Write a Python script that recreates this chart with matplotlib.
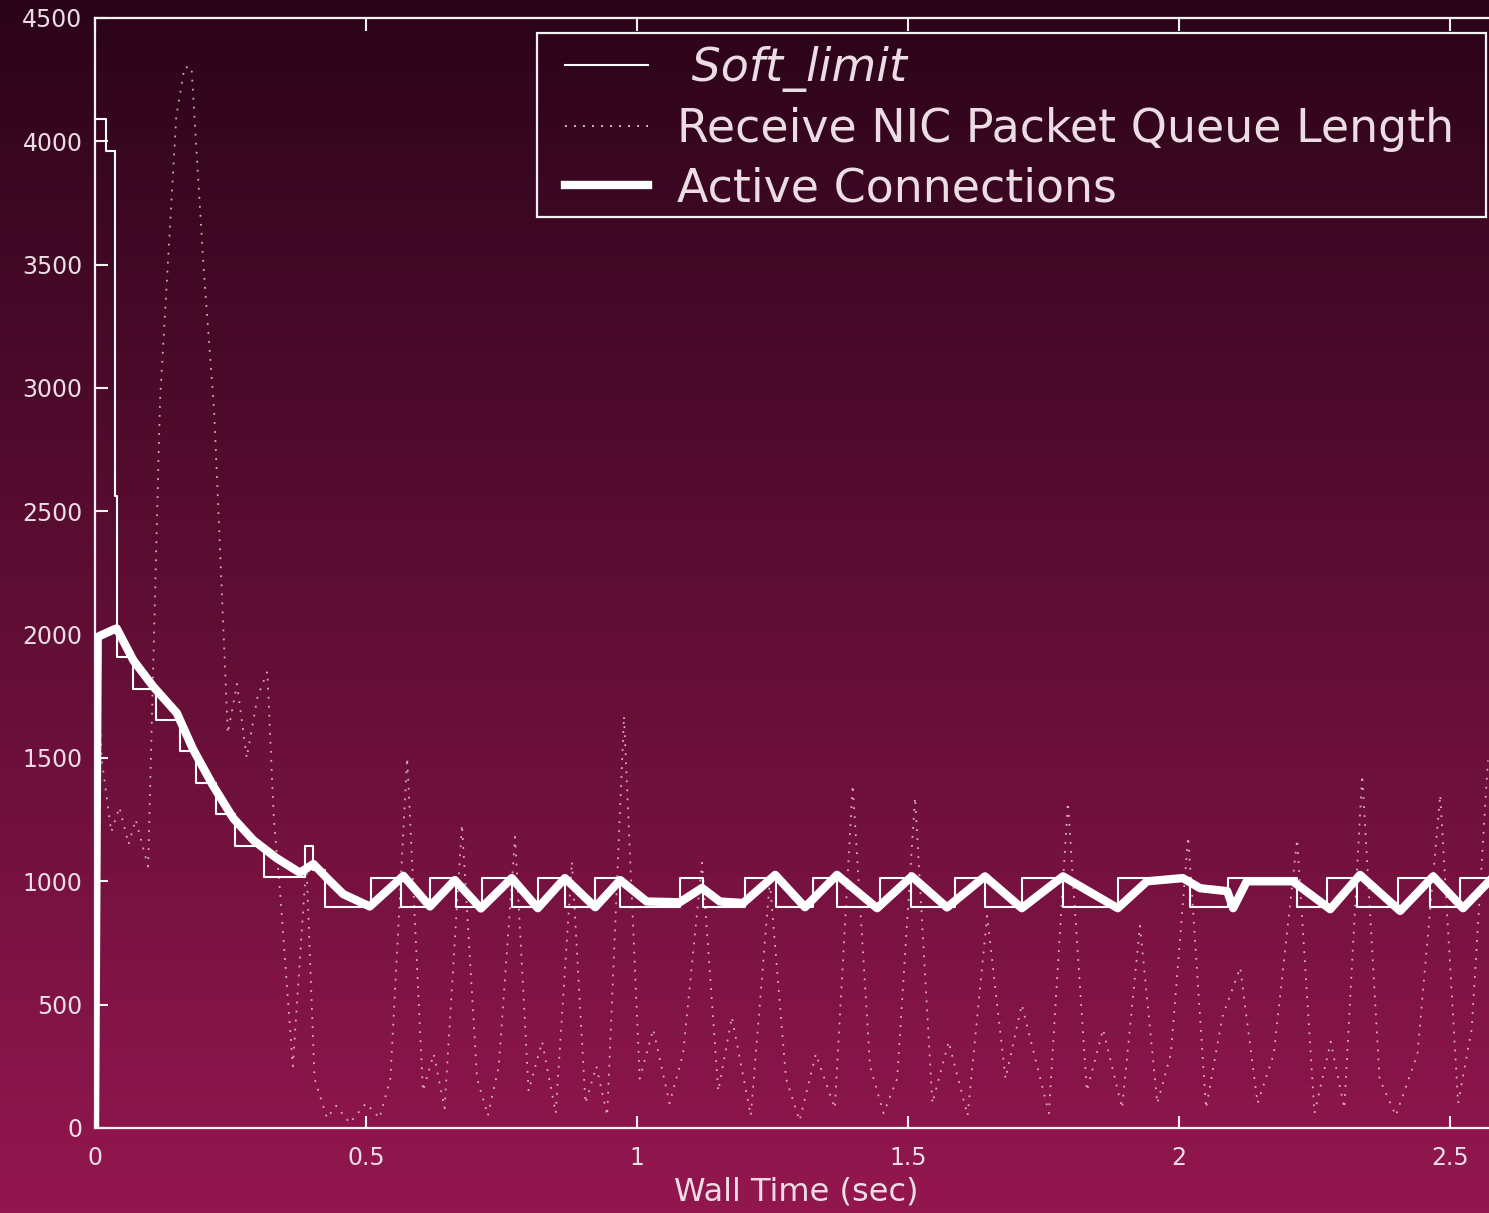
import numpy as np
import matplotlib
matplotlib.use("Agg")
import matplotlib.pyplot as plt
from matplotlib.colors import LinearSegmentedColormap
from matplotlib.lines import Line2D
from matplotlib.patches import Rectangle

plt.rcParams['font.family'] = ['DejaVu Sans']

## soft limit (step, post)
sl_x = [0.0, 0.020, 0.036, 0.041, 0.0695, 0.1125, 0.157, 0.186, 0.223, 0.259,
        0.311, 0.387, 0.403, 0.424, 0.509, 0.565, 0.618, 0.666, 0.714, 0.769,
        0.817, 0.867, 0.923, 0.969, 1.079, 1.122, 1.199, 1.257, 1.325, 1.369,
        1.448, 1.506, 1.587, 1.642, 1.710, 1.786, 1.887, 2.020, 2.090, 2.218,
        2.273, 2.328, 2.404, 2.463, 2.518, 2.572]
sl_y = [4090, 3960, 2560, 1911, 1781, 1653, 1527, 1397, 1271, 1143,
        1016, 1143, 1046, 895, 1013, 895, 1013, 895, 1013, 895,
        1013, 895, 1013, 895, 1013, 895, 1013, 895, 1013, 895,
        1013, 895, 1013, 895, 1013, 895, 1013, 895, 1013, 895,
        1013, 895, 1013, 895, 1013, 1013]

## receive NIC packet queue length
q_x = [0.000, 0.004, 0.012, 0.030, 0.045, 0.062, 0.075, 0.098, 0.120, 0.150,
       0.165, 0.178, 0.200, 0.220, 0.245, 0.262, 0.280, 0.300, 0.318, 0.330,
       0.340, 0.365, 0.390, 0.405, 0.428, 0.445, 0.470, 0.500, 0.525, 0.545,
       0.576, 0.605, 0.625, 0.645, 0.677, 0.705, 0.725, 0.745, 0.775, 0.800,
       0.825, 0.850, 0.880, 0.905, 0.925, 0.945, 0.976, 1.005, 1.030, 1.060,
       1.085, 1.120, 1.150, 1.175, 1.210, 1.245, 1.275, 1.300, 1.330, 1.365,
       1.398, 1.430, 1.455, 1.480, 1.513, 1.545, 1.575, 1.610, 1.646, 1.680,
       1.710, 1.760, 1.795, 1.830, 1.860, 1.895, 1.928, 1.960, 1.985, 2.017,
       2.050, 2.080, 2.113, 2.145, 2.175, 2.218, 2.250, 2.280, 2.305, 2.338,
       2.370, 2.400, 2.440, 2.482, 2.515, 2.540, 2.570]
q_y = [0, 1950, 1500, 1200, 1300, 1150, 1250, 1060, 2950, 4100,
       4300, 4300, 3500, 2900, 1600, 1800, 1500, 1750, 1850, 1250,
       1000, 250, 1080, 200, 40, 90, 20, 100, 40, 200,
       1500, 150, 300, 80, 1230, 200, 50, 250, 1180, 150,
       350, 60, 1080, 100, 250, 50, 1670, 200, 400, 100,
       300, 1075, 150, 450, 50, 1000, 200, 30, 300, 80,
       1390, 250, 60, 200, 1340, 100, 350, 50, 860, 200,
       500, 60, 1320, 150, 400, 80, 820, 100, 300, 1180,
       80, 450, 650, 100, 300, 1170, 60, 350, 80, 1430,
       200, 50, 300, 1350, 100, 400, 1490]

## active connections
act_x = [0.0, 0.005, 0.009, 0.034, 0.040, 0.071, 0.108, 0.151, 0.181, 0.218,
         0.255, 0.292, 0.335, 0.378, 0.403, 0.428, 0.458, 0.507, 0.569, 0.618,
         0.664, 0.712, 0.769, 0.817, 0.867, 0.923, 0.969, 1.018, 1.079, 1.120,
         1.153, 1.196, 1.255, 1.310, 1.369, 1.443, 1.507, 1.572, 1.642, 1.710,
         1.786, 1.887, 1.941, 2.007, 2.039, 2.089, 2.100, 2.125, 2.210, 2.279,
         2.334, 2.408, 2.469, 2.524, 2.572]
act_y = [0, 1990, 1995, 2020, 2025, 1895, 1788, 1682, 1535, 1387,
         1256, 1167, 1094, 1035, 1070, 1013, 948, 898, 1022, 898,
         1005, 890, 1013, 891, 1013, 895, 1005, 918, 915, 973,
         918, 912, 1026, 895, 1026, 891, 1020, 894, 1020, 891,
         1020, 891, 1000, 1013, 972, 960, 891, 1000, 1000, 887,
         1026, 880, 1020, 891, 1000]

x_ticks = [0, 0.5, 1, 1.5, 2, 2.5]
x_labels = ["0", "0.5", "1", "1.5", "2", "2.5"]
y_ticks = [0, 500, 1000, 1500, 2000, 2500, 3000, 3500, 4000, 4500]

labels = [" Soft_limit", "Receive NIC Packet Queue Length", "Active Connections"]

fg = '#f2f2f2'
txt = '#ecdde5'
dot_style = (0, (1, 4))

fig = plt.figure(figsize=(14.89, 12.13), dpi=100)

# background gradient
bg = fig.add_axes([0, 0, 1, 1], zorder=0)
cmap = LinearSegmentedColormap.from_list('bg', ['#93174f', '#2b0419'])
bg.imshow(np.linspace(0, 1, 256).reshape(-1, 1), aspect='auto', cmap=cmap,
          origin='lower', extent=[0, 1, 0, 1])
bg.axis('off')

ax = fig.add_axes([0.0638, 0.0701, 0.9362, 0.9151], zorder=1)
ax.patch.set_alpha(0)

ax.plot(q_x, q_y, color='#f4d0e2', lw=1.3, ls=dot_style, alpha=0.8, zorder=2)
ax.step(sl_x, sl_y, where='post', color='white', lw=1.5, zorder=3)
ax.plot(act_x, act_y, color='white', lw=6, solid_joinstyle='round', zorder=4)

ax.set_xlim(0, 2.572)
ax.set_ylim(0, 4500)
ax.set_xticks(x_ticks)
ax.set_xticklabels(x_labels)
ax.set_yticks(y_ticks)

for s in ['left', 'bottom', 'top']:
    ax.spines[s].set_color(fg)
    ax.spines[s].set_linewidth(1.6)
ax.spines['right'].set_visible(False)

ax.tick_params(direction='in', length=9, width=1.5, colors=fg, labelcolor=txt,
               labelsize=17, top=True, right=False)
ax.tick_params(axis='x', pad=13)
ax.tick_params(axis='y', pad=9)

ax.set_xlabel("Wall Time (sec)", fontsize=23, color=txt)
ax.xaxis.set_label_coords((796 - 95) / 1394, -(1177 - 1128) / 1110)

handles = [Line2D([], [], color='white', lw=1.5),
           Line2D([], [], color='#f4d0e2', lw=1.3, ls=dot_style),
           Line2D([], [], color='white', lw=6)]
leg = fig.legend(handles, labels, loc='upper left',
                 bbox_to_anchor=(565 / 1489, 1 - 46 / 1213),
                 frameon=False, fontsize=33, handlelength=1.81, handletextpad=0.63,
                 labelspacing=0.32, borderpad=0, borderaxespad=0, labelcolor=txt)
leg.get_texts()[0].set_style('italic')

fig.add_artist(Rectangle((537 / 1489, 1 - 217 / 1213), (1486 - 537) / 1489,
                         (217 - 33) / 1213, transform=fig.transFigure,
                         fill=False, ec=fg, lw=1.6, zorder=5))

plt.savefig("out.png", dpi=100)
